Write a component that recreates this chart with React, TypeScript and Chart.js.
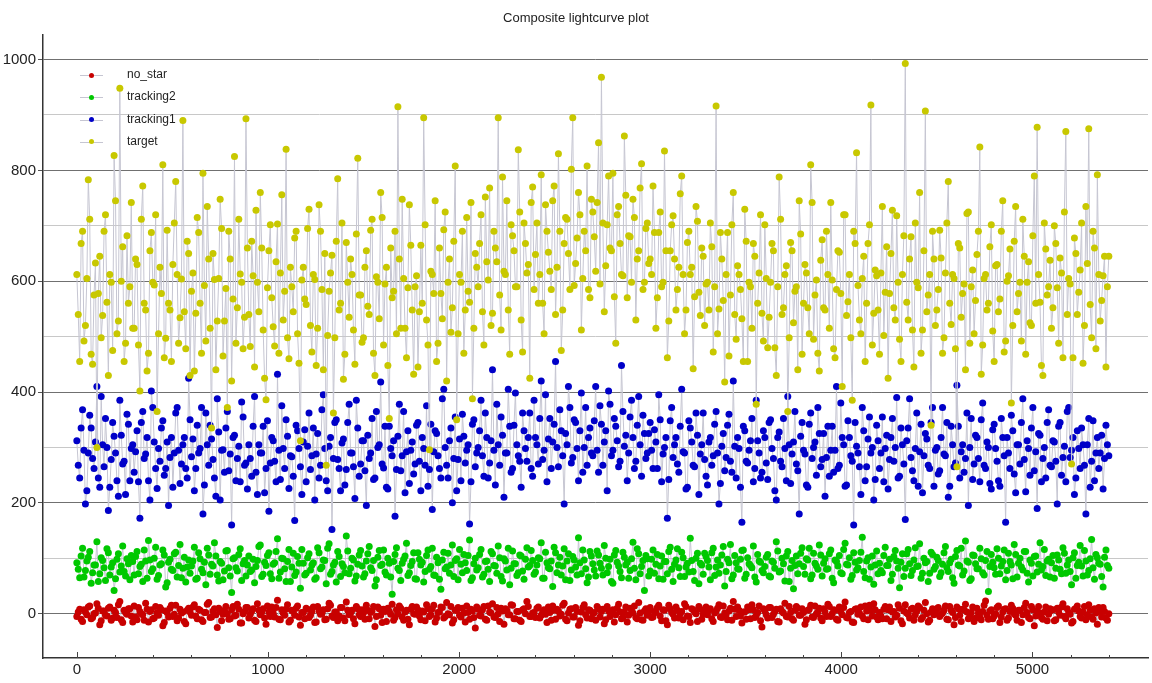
import React, { useEffect, useRef } from 'react';
import { Chart, registerables } from 'chart.js';

Chart.register(...registerables);

// frame spacing of the "A" samples; the "B" samples sit half way between them
const xStep = 15;

const seriesNames = ['no_star', 'tracking2', 'tracking1', 'target'];
const seriesColors = ['#c80000', '#00c800', '#0000c8', '#c8c800'];

// tick positions (labels only on every 1000 / every 200)
const xTickValues = [
  0, 200, 400, 600, 800, 1000, 1200, 1400, 1600, 1800, 2000, 2200, 2400, 2600,
  2800, 3000, 3200, 3400, 3600, 3800, 4000, 4200, 4400, 4600, 4800, 5000, 5200, 5400,
];
const yTickValues = [0, 100, 200, 300, 400, 500, 600, 700, 800, 900, 1000];

const noStarA = [
  -5, 8, -14, 3, 12, -9, 0, 18, -20, 5, -3, 10, -12, 6, -7, 22, -16, 2, 9, -4,
  14, -11, 4, -2, 19, -15, 7, -8, 1, 11, -22, 5, -6, 15, -1, -13, 8, 3, -18, 10,
  -3, 16, -9, 6, -14, 2, 20, -6, 9, -25, 4, -1, 13, -10, 7, -4, 17, -17, 0, 11,
  -8, 5, -12, 18, -2, 9, -19, 3, 12, -6, 24, -11, 1, 8, -15, 6, -3, 14, -21, 2,
  10, -7, 4, -16, 13, -1, 7, -10, 19, -4, 3, -13, 11, -8, 21, -2, 6, -18, 9, -5,
  1, 15, -9, 5, -23, 12, -3, 8, -14, 4, 17, -7, 0, 10, -12, 6, -20, 13, -1, 7,
  -11, 3, 16, -5, 9, -15, 2, 12, -8, 20, -2, -17, 6, 11, -6, 1, 14, -10, 5, -26,
  8, -4, 13, -12, 3, 18, -7, 0, 10, -19, 6, -2, 15, -9, 4, -14, 9, 22, -5, 1,
  -7, 12, -3, 7, -16, 2, 14, -10, 5, -1, 19, -13, 8, -6, 11, -21, 3, 16, -8, 6,
  0, -12, 9, 4, -18, 13, -5, 7, -2, 17, -9, 3, -15, 10, 1, -7, 20, -11, 5, -3,
  11, -6, 2, 15, -13, 6, -20, 9, -1, 12, -8, 4, 18, -4, -16, 7, 0, 13, -10, 3,
  -2, 9, -14, 5, 16, -7, 1, -11, 10, 22, -5, 6, -17, 3, 12, -9, 7, -3, 14, -24,
  5, -8, 11, -1, 8, -15, 4, 19, -6, 2, -12, 13, -3, 9, -19, 6, 15, -7, 0, 10,
  -13, 3, 17, -5, 7, -10, 12, -2, 21, -8, 4, -16, 9, 1, -4, 14, -11, 6, 18, -6,
  2, -9, 13, 7, -14, 4, -3, 10, -18, 16, -1, 8, -12, 5, 11, -7, 20, -15, 3, -2,
  9, -5, 1, 14, -11, 6, -20, 12, -3, 8, 17, -9, 2, -14, 10, -6, 4, 23, -10, 7,
  -4, 11, -16, 3, 9, -8, 15, 0, -12, 6, -2, 19, -7, 13, -22, 5, 1, -10, 12, -1,
  6, -13, 10, -3, 18, -9, 2, -17, 8, 14, -5, 3, -11, 16, -6, 9, -19, 4, 11, -8,
  0,
];

const noStarB = [
  3, -10, 7, -2, 14, -7, 1, 10, -13, 5, -4, 12, -8, 2, 16, -11, 6, -1, 9, -15,
  -6, 11, 0, -12, 8, 4, -9, 13, -3, 7, -16, 2, 10, -5, 15, -8, 1, -14, 6, 3,
  12, -4, 8, -11, 2, 17, -7, 5, -2, 10, -13, 6, 0, -9, 13, -3, 8, -17, 4, 11,
  -1, 9, -14, 6, 3, -8, 14, -5, 1, 11, -10, 7, -3, 16, -12, 4, 10, -6, 2, -9,
  8, -3, 12, -15, 5, 0, -11, 9, 15, -7, 3, -4, 11, -13, 6, 1, -9, 13, -2, 7,
  -10, 6, 2, 13, -5, 9, -16, 4, 10, -1, -12, 7, 14, -6, 3, -10, 8, 0, 12, -4,
  5, -13, 9, -2, 15, -8, 3, 11, -5, 0, 13, -11, 6, -3, 10, -15, 2, 8, -7, 12,
  -3, 7, -10, 14, 1, -6, 11, -14, 5, 9, -2, 16, -9, 4, -12, 7, 0, 13, -5, 2,
  10, -8, 3, -1, 12, -12, 6, 8, -4, 15, -10, 1, 9, -6, 4, -13, 11, -2, 7, -9,
  2, 13, -6, 8, -11, 5, 0, -15, 10, 3, -7, 12, -3, 6, 14, -9, 1, -12, 9, 4,
  -7, 4, 11, -4, 7, -13, 15, 2, -8, 6, 0, -11, 13, -5, 9, 3, -14, 8, -1, 12,
  6, -9, 1, 10, -6, 14, -2, 5, -12, 8, 12, -4, 3, -10, 7, 16, -7, 2, -13, 9,
  -2, 11, -7, 4, -14, 9, 1, -5, 13, -9, 6, 10, -3, 2, -11, 8, -6, 14, 3, -8,
  9, -5, 13, 0, 6, -12, 4, 11, -7, 2, -15, 8, -1, 12, -9, 5, 15, -4, 7, -11,
  -4, 8, -9, 12, 3, -6, 16, -13, 5, 1, -8, 10, -2, 14, -10, 6, 0, -12, 9, 4,
  11, -1, 6, -10, 13, 2, -7, 9, -14, 7, 3, -5, 12, -8, 1, -11, 15, -3, 5, -9,
  0, 14, -6, 8, -12, 4, 10, -3, 6, -16, 11, 2, -9, 7, -4, 13, -7, 3, -13, 9,
  7, -11, 3, 12, -5, 9, -1, -14, 10, 5, -8, 13, -2, 6, -10, 1, 11, -6, 4, -12,
];

const tracking2A = [
  92, 65, 118, 78, 102, 55, 88, 130, 72, 96, 60, 110, 84, 42, 98, 75, 122, 68, 90, 105,
  70, 112, 85, 58, 95, 132, 76, 100, 62, 88, 115, 48, 93, 80, 108, 66, 125, 82, 57, 97,
  86, 120, 64, 99, 74, 52, 106, 89, 128, 70, 94, 61, 113, 83, 38, 101, 77, 117, 90, 68,
  104, 79, 56, 96, 124, 71, 87, 110, 63, 92, 135, 75, 99, 58, 116, 84, 69, 103, 46, 91,
  73, 108, 88, 62, 119, 81, 97, 54, 126, 76, 93, 112, 67, 85, 140, 72, 100, 59, 89, 114,
  66, 95, 121, 78, 50, 102, 87, 115, 70, 91, 35, 107, 82, 60, 98, 127, 74, 94, 63, 110,
  88, 57, 105, 80, 118, 69, 92, 44, 111, 84, 73, 124, 96, 61, 89, 107, 78, 133, 65, 100,
  83, 116, 71, 95, 58, 108, 86, 122, 67, 99, 79, 52, 113, 90, 74, 104, 62, 119, 87, 96,
  75, 101, 128, 64, 92, 81, 49, 110, 88, 70, 117, 95, 60, 103, 84, 137, 72, 97, 56, 112,
  90, 68, 106, 82, 123, 74, 98, 55, 114, 86, 65, 102, 93, 78, 129, 61, 108, 85, 42, 99,
  77, 115, 89, 63, 104, 94, 72, 120, 58, 97, 83, 111, 67, 91, 136, 76, 100, 54, 88, 109,
  96, 61, 118, 84, 73, 106, 50, 98, 125, 70, 92, 80, 114, 64, 101, 87, 122, 57, 95, 78,
  85, 107, 66, 93, 130, 75, 100, 59, 112, 82, 45, 104, 90, 119, 71, 97, 63, 109, 86, 124,
  68, 99, 81, 115, 56, 94, 105, 72, 127, 88, 62, 110, 79, 96, 138, 65, 101, 84, 53, 113,
  91, 74, 120, 87, 60, 103, 95, 47, 108, 82, 116, 69, 97, 85, 126, 73, 92, 58, 111, 80,
  102, 67, 89, 121, 76, 98, 55, 114, 86, 70, 131, 93, 63, 105, 81, 118, 74, 96, 40, 107,
  83, 117, 72, 94, 61, 109, 88, 125, 66, 100, 79, 112, 57, 91, 103, 75, 128, 85, 69, 98,
  92, 64, 106, 80, 119, 73, 97, 52, 110, 87, 123, 68, 95, 78, 134, 62, 101, 89, 48, 115,
  82,
];

const tracking2B = [
  80, 104, 66, 95, 112, 74, 88, 58, 101, 83, 117, 70, 92, 63, 108, 86, 76, 99, 61, 94,
  103, 72, 89, 115, 64, 97, 81, 120, 69, 90, 106, 56, 98, 78, 111, 87, 65, 102, 84, 73,
  95, 62, 110, 80, 93, 118, 71, 86, 104, 59, 91, 77, 114, 68, 99, 83, 107, 60, 96, 88,
  76, 98, 85, 121, 67, 93, 105, 72, 89, 112, 64, 100, 81, 94, 58, 109, 75, 91, 116, 70,
  101, 79, 92, 65, 110, 84, 96, 118, 71, 88, 57, 103, 90, 74, 113, 82, 97, 68, 106, 86,
  72, 108, 83, 96, 61, 114, 89, 75, 100, 66, 94, 119, 78, 91, 104, 69, 87, 110, 62, 98,
  93, 76, 115, 85, 70, 102, 62, 97, 81, 109, 88, 67, 99, 116, 74, 92, 105, 60, 90, 79,
  107, 66, 94, 80, 112, 87, 73, 101, 59, 95, 118, 82, 90, 69, 106, 77, 98, 84, 114, 71,
  88, 99, 64, 111, 83, 95, 120, 74, 102, 86, 61, 108, 79, 97, 70, 92, 115, 81, 66, 104,
  79, 113, 91, 70, 100, 85, 58, 106, 93, 76, 111, 88, 64, 99, 82, 117, 72, 96, 105, 68,
  98, 73, 107, 86, 62, 94, 112, 80, 89, 117, 67, 101, 84, 75, 96, 60, 109, 91, 71, 103,
  84, 110, 69, 97, 88, 121, 76, 92, 63, 105, 81, 98, 115, 71, 90, 83, 66, 107, 93, 74,
  102, 68, 95, 82, 113, 77, 90, 104, 58, 96, 87, 72, 109, 85, 99, 118, 70, 91, 80, 106,
  91, 80, 108, 64, 97, 86, 74, 116, 89, 101, 69, 93, 83, 111, 76, 95, 62, 104, 88, 72,
  78, 105, 87, 98, 71, 114, 82, 93, 67, 108, 90, 78, 119, 86, 64, 100, 94, 73, 107, 85,
  96, 74, 110, 83, 92, 65, 103, 88, 118, 77, 95, 60, 106, 90, 81, 99, 70, 112, 85, 93,
  71, 100, 86, 115, 78, 94, 63, 107, 91, 84, 112, 73, 97, 68, 104, 89, 79, 116, 95, 66,
  105, 82, 97, 72, 109, 88, 76, 101, 64, 93, 86, 114, 70, 99, 83, 107, 91, 67, 102, 87,
];

const tracking1A = [
  312, 245, 368, 198, 290, 335, 262, 410, 228, 305, 352, 186, 278, 320, 240, 385, 270, 215, 342, 298,
  255, 330, 172, 365, 288, 240, 402, 310, 226, 275, 348, 262, 195, 318, 290, 372, 235, 305, 262, 425,
  283, 222, 340, 298, 180, 362, 268, 315, 245, 388, 205, 296, 335, 258, 160, 322, 280, 238, 355, 272,
  305, 248, 392, 215, 290, 338, 262, 185, 318, 275, 432, 242, 298, 350, 226, 283, 168, 330, 265, 310,
  238, 362, 285, 205, 325, 268, 395, 240, 302, 152, 345, 278, 222, 315, 260, 378, 290, 208, 335, 270,
  312, 195, 280, 352, 245, 300, 418, 263, 228, 338, 285, 176, 320, 258, 365, 292, 235, 310, 270, 345,
  222, 298, 375, 260, 188, 330, 285, 245, 405, 268, 312, 200, 355, 278, 240, 320, 295, 162, 342, 265,
  300, 385, 248, 318, 272, 440, 232, 305, 355, 210, 290, 338, 262, 398, 285, 228, 330, 275, 362, 248,
  318, 270, 420, 295, 238, 352, 310, 455, 265, 330, 198, 305, 372, 282, 345, 240, 398, 300, 268, 335,
  285, 410, 255, 342, 310, 222, 378, 295, 338, 265, 448, 302, 240, 355, 318, 275, 392, 248, 325, 290,
  345, 262, 310, 395, 238, 300, 172, 348, 282, 318, 255, 405, 290, 228, 335, 268, 362, 215, 305, 278,
  232, 318, 285, 365, 198, 302, 258, 340, 275, 420, 245, 298, 165, 330, 272, 312, 238, 385, 290, 255,
  318, 242, 350, 280, 205, 328, 265, 298, 392, 235, 310, 270, 180, 345, 288, 228, 362, 300, 250, 325,
  278, 212, 338, 295, 255, 410, 268, 318, 230, 348, 285, 160, 302, 265, 372, 240, 315, 290, 205, 340,
  262, 355, 298, 225, 318, 275, 390, 248, 305, 170, 335, 282, 240, 362, 292, 218, 325, 268, 345, 230,
  300, 258, 372, 285, 210, 338, 265, 412, 245, 305, 280, 195, 352, 270, 318, 238, 380, 262, 300, 225,
  342, 275, 230, 318, 165, 290, 358, 252, 305, 270, 388, 220, 298, 335, 258, 190, 322, 280, 245, 368,
  265, 310, 198, 345, 282, 238, 372, 295, 215, 330, 262, 305, 180, 352, 275, 240, 318, 290, 225, 340,
  285,
];

const tracking1B = [
  268, 335, 295, 222, 358, 280, 310, 245, 392, 265, 300, 228, 345, 290, 212, 322, 275, 360, 240, 305,
  292, 238, 345, 280, 318, 205, 372, 262, 298, 335, 250, 310, 282, 228, 362, 295, 270, 318, 245, 350,
  315, 262, 290, 372, 232, 305, 340, 278, 212, 328, 295, 255, 365, 288, 318, 240, 302, 382, 268, 225,
  280, 338, 255, 305, 290, 218, 348, 272, 312, 238, 295, 375, 262, 320, 285, 248, 340, 298, 215, 332,
  302, 260, 335, 288, 245, 368, 298, 222, 318, 280, 350, 262, 308, 232, 345, 290, 265, 385, 248, 312,
  258, 322, 290, 242, 365, 305, 270, 338, 225, 298, 312, 260, 378, 285, 218, 330, 295, 252, 340, 275,
  318, 268, 230, 342, 292, 325, 262, 388, 300, 245, 335, 280, 222, 315, 360, 272, 305, 238, 350, 290,
  330, 285, 362, 245, 312, 295, 378, 268, 322, 290, 405, 255, 340, 305, 275, 362, 298, 318, 262, 385,
  305, 352, 278, 395, 315, 262, 342, 300, 368, 285, 325, 410, 272, 350, 298, 330, 255, 372, 318, 290,
  348, 295, 375, 268, 330, 402, 285, 352, 312, 275, 365, 322, 290, 385, 262, 340, 305, 358, 280, 325,
  295, 332, 262, 350, 288, 318, 242, 372, 305, 270, 338, 292, 225, 348, 310, 265, 322, 288, 362, 248,
  310, 268, 342, 290, 235, 325, 282, 360, 255, 302, 318, 228, 338, 275, 295, 352, 262, 312, 245, 330,
  272, 345, 298, 222, 318, 275, 352, 240, 305, 288, 365, 258, 320, 295, 232, 342, 280, 310, 372, 265,
  325, 282, 248, 338, 295, 262, 380, 305, 232, 318, 275, 345, 290, 215, 330, 265, 355, 300, 242, 312,
  290, 238, 322, 278, 352, 300, 245, 335, 270, 312, 388, 258, 298, 230, 342, 285, 315, 262, 372, 295,
  252, 318, 288, 345, 230, 305, 272, 338, 292, 255, 362, 300, 242, 322, 280, 350, 268, 310, 235, 332,
  298, 240, 352, 285, 318, 262, 330, 218, 305, 345, 278, 312, 250, 372, 292, 325, 238, 300, 345, 268,
  312, 275, 338, 250, 302, 365, 282, 318, 245, 298, 335, 268, 305, 228, 348, 290, 262, 322, 280, 305,
];

const targetA = [
  612, 455, 690, 520, 783, 468, 575, 300, 645, 538, 720, 430, 598, 827, 505, 948, 662, 488, 560, 742,
  515, 630, 402, 772, 548, 470, 688, 593, 365, 625, 810, 497, 560, 455, 705, 612, 534, 890, 478, 650,
  582, 438, 715, 560, 795, 492, 640, 335, 603, 528, 748, 465, 587, 690, 420, 825, 552, 613, 478, 893,
  540, 672, 445, 598, 760, 512, 386, 655, 570, 483, 703, 615, 530, 838, 460, 590, 678, 505, 312, 625,
  558, 730, 472, 603, 515, 690, 440, 268, 582, 647, 498, 785, 560, 423, 670, 535, 612, 450, 822, 575,
  498, 655, 540, 712, 430, 598, 760, 485, 625, 352, 570, 690, 915, 515, 605, 462, 738, 548, 590, 445,
  665, 895, 530, 296, 612, 745, 488, 578, 693, 420, 640, 552, 808, 505, 598, 470, 715, 562, 388, 650,
  590, 720, 485, 635, 768, 542, 660, 895, 512, 618, 745, 468, 682, 590, 837, 530, 705, 615, 425, 770,
  648, 560, 792, 505, 690, 618, 745, 540, 830, 475, 668, 712, 585, 895, 632, 760, 512, 690, 808, 570,
  725, 618, 850, 968, 545, 702, 660, 795, 488, 735, 612, 862, 570, 680, 748, 530, 655, 812, 598, 705,
  640, 772, 515, 688, 590, 835, 462, 655, 718, 548, 625, 790, 505, 670, 612, 442, 735, 580, 660, 520,
  598, 705, 472, 916, 550, 640, 418, 688, 575, 760, 495, 612, 532, 730, 455, 590, 668, 378, 615, 542,
  702, 480, 598, 655, 430, 788, 540, 612, 365, 670, 525, 590, 745, 468, 630, 552, 810, 495, 602, 438,
  675, 548, 612, 742, 478, 585, 652, 410, 720, 563, 498, 690, 832, 530, 605, 455, 668, 918, 542, 610,
  468, 735, 580, 425, 650, 552, 718, 495, 612, 993, 530, 680, 445, 598, 760, 512, 907, 575, 340, 640,
  548, 692, 470, 615, 780, 522, 605, 265, 660, 578, 440, 725, 590, 505, 648, 842, 485, 612, 560, 702,
  455, 630, 568, 745, 492, 610, 380, 672, 545, 598, 712, 468, 635, 520, 790, 878, 562, 430, 658, 590,
  515, 700, 588, 642, 462, 870, 605, 270, 678, 540, 620, 452, 735, 875, 498, 660, 792, 528, 610, 445,
  645,
];

const targetB = [
  540, 668, 492, 605, 712, 450, 633, 578, 498, 690, 562, 612, 475, 745, 528, 600, 455, 682, 590, 515,
  640, 485, 712, 560, 438, 655, 598, 720, 505, 578, 462, 692, 548, 630, 780, 488, 604, 545, 672, 430,
  615, 542, 688, 470, 592, 735, 515, 650, 440, 605, 695, 528, 372, 640, 568, 488, 712, 598, 535, 660,
  482, 610, 728, 545, 660, 425, 588, 702, 518, 635, 470, 756, 582, 498, 625, 545, 690, 452, 602, 568,
  695, 520, 612, 448, 738, 585, 650, 502, 615, 362, 672, 548, 705, 468, 598, 640, 512, 685, 575, 490,
  625, 555, 692, 470, 608, 532, 715, 595, 448, 660, 582, 505, 640, 748, 515, 588, 665, 432, 610, 545,
  560, 702, 485, 618, 578, 455, 660, 532, 725, 598, 508, 672, 350, 612, 690, 548, 582, 742, 515, 625,
  668, 545, 752, 602, 520, 690, 635, 575, 788, 612, 548, 702, 655, 590, 725, 472, 668, 630, 742, 585,
  705, 612, 560, 738, 652, 585, 772, 625, 690, 548, 715, 650, 802, 592, 678, 720, 605, 655, 585, 748,
  680, 742, 595, 705, 628, 790, 655, 572, 720, 668, 610, 755, 682, 598, 715, 640, 768, 585, 695, 632,
  612, 688, 570, 725, 598, 655, 528, 702, 640, 585, 758, 612, 548, 690, 625, 572, 708, 538, 645, 595,
  548, 662, 590, 505, 688, 565, 612, 465, 702, 540, 628, 585, 455, 672, 598, 515, 645, 560, 720, 492,
  605, 535, 668, 480, 590, 712, 552, 628, 498, 655, 582, 440, 685, 560, 615, 505, 742, 575, 470, 638,
  552, 690, 515, 602, 462, 655, 578, 720, 538, 612, 385, 668, 592, 505, 645, 560, 702, 485, 620, 548,
  615, 502, 662, 578, 728, 530, 598, 455, 682, 562, 640, 512, 705, 588, 470, 655, 545, 612, 690, 520,
  585, 642, 498, 705, 560, 612, 478, 668, 535, 595, 722, 488, 620, 565, 690, 432, 605, 548, 662, 510,
  628, 545, 690, 472, 600, 658, 520, 735, 578, 492, 645, 598, 525, 682, 560, 612, 448, 705, 575, 638,
  552, 668, 488, 615, 725, 540, 595, 462, 650, 580, 705, 520, 632, 558, 690, 478, 612, 565, 645, 590,
];

const seriesA = [noStarA, tracking2A, tracking1A, targetA];
const seriesB = [noStarB, tracking2B, tracking1B, targetB];

const FONT = '"Liberation Sans", Arial, Helvetica, sans-serif';
const LINE_GRAY = '#c6c6d2';

// short inward tick marks on the bottom axis, like the original plot
const innerTicks = {
  id: 'innerTicks',
  afterDraw(chart: Chart) {
    const { ctx, chartArea } = chart;
    const x = chart.scales.x;
    ctx.save();
    ctx.strokeStyle = '#444';
    ctx.lineWidth = 1;
    x.ticks.forEach((t) => {
      const px = Math.round(x.getPixelForValue(t.value)) + 0.5;
      const len = t.value % 1000 === 0 ? 6 : 3;
      ctx.beginPath();
      ctx.moveTo(px, chartArea.bottom);
      ctx.lineTo(px, chartArea.bottom - len);
      ctx.stroke();
    });
    ctx.restore();
  },
};

const Legend: React.FC = () => (
  <div style={{ position: 'absolute', left: 80, top: 64, fontFamily: FONT, fontSize: 12, color: '#222' }}>
    {seriesNames.map((name, i) => (
      <div key={name} style={{ position: 'relative', height: 22.3 }}>
        <div style={{ position: 'absolute', left: 0, top: 11, width: 23, height: 1, background: LINE_GRAY }} />
        <div
          style={{
            position: 'absolute',
            left: 9,
            top: 8.5,
            width: 5,
            height: 5,
            borderRadius: '50%',
            background: seriesColors[i],
          }}
        />
        <span style={{ position: 'absolute', left: 47, top: 3, whiteSpace: 'nowrap' }}>{name}</span>
      </div>
    ))}
  </div>
);

const App: React.FC = () => {
  const canvasRef = useRef<HTMLCanvasElement | null>(null);
  const chartRef = useRef<Chart | null>(null);

  useEffect(() => {
    if (!canvasRef.current) return;
    if (chartRef.current) chartRef.current.destroy();

    // target first so it is painted on top, the others underneath
    const datasets = [3, 2, 1, 0].map((k) => {
      const a = seriesA[k];
      const b = seriesB[k];
      const pts: { x: number; y: number }[] = [];
      a.forEach((v, i) => {
        pts.push({ x: i * xStep, y: v });
        if (i < b.length) pts.push({ x: i * xStep + xStep / 2, y: b[i] });
      });
      return {
        label: seriesNames[k],
        data: pts,
        showLine: true,
        borderColor: LINE_GRAY,
        borderWidth: 1,
        pointRadius: 3.5,
        pointBorderWidth: 0,
        pointBackgroundColor: seriesColors[k],
        pointBorderColor: seriesColors[k],
      };
    });

    chartRef.current = new Chart(canvasRef.current, {
      type: 'scatter',
      data: { datasets },
      options: {
        animation: false,
        responsive: true,
        maintainAspectRatio: false,
        events: [],
        layout: { padding: 0 },
        plugins: {
          legend: { display: false },
          tooltip: { enabled: false },
          title: {
            display: true,
            text: 'Composite lightcurve plot',
            color: '#222',
            font: { family: FONT, size: 13, weight: 'normal' },
            padding: { top: 11, bottom: 8 },
          },
        },
        scales: {
          x: {
            type: 'linear',
            min: -177,
            max: 5605,
            afterBuildTicks: (s) => {
              s.ticks = xTickValues.map((value) => ({ value }));
            },
            afterFit: (s) => {
              s.height = 25;
            },
            ticks: {
              autoSkip: false,
              maxRotation: 0,
              minRotation: 0,
              padding: 3,
              color: '#222',
              font: { family: FONT, size: 15 },
              callback: (v) => (Number(v) % 1000 === 0 ? String(v) : ''),
            },
            grid: { drawOnChartArea: false, drawTicks: true, tickLength: 0, tickColor: 'rgba(0,0,0,0)' },
            border: { color: '#333', width: 1.5 },
          },
          y: {
            type: 'linear',
            min: -80,
            max: 1045,
            afterBuildTicks: (s) => {
              s.ticks = yTickValues.map((value) => ({ value }));
            },
            afterFit: (s) => {
              s.width = 43;
            },
            ticks: {
              autoSkip: false,
              padding: 2,
              color: '#222',
              font: { family: FONT, size: 15 },
              callback: (v) => (Number(v) % 200 === 0 ? String(v) : ''),
            },
            grid: {
              drawTicks: true,
              tickLength: 5,
              lineWidth: 1,
              color: (c) => (c.tick && c.tick.value % 200 === 0 ? '#707070' : '#c8c8c8'),
              tickColor: (c) => (c.tick && c.tick.value % 200 === 0 ? '#555' : 'rgba(0,0,0,0)'),
            },
            border: { color: '#333', width: 1.5 },
          },
        },
      },
      plugins: [innerTicks],
    });

    return () => {
      if (chartRef.current) {
        chartRef.current.destroy();
        chartRef.current = null;
      }
    };
  }, []);

  return (
    <div style={{ position: 'fixed', left: 0, top: 0, width: 1152, height: 683, background: '#fff' }}>
      <canvas ref={canvasRef} />
      <Legend />
    </div>
  );
};

export default App;
